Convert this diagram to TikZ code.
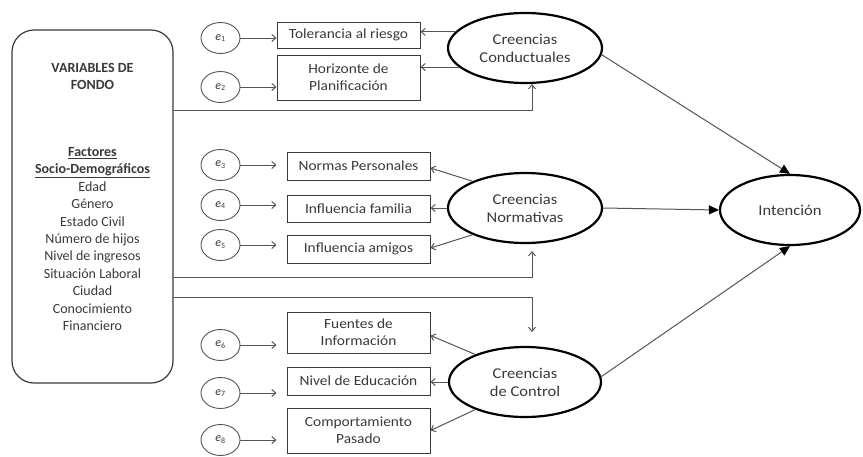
\documentclass[tikz,border=0pt]{standalone}
\usepackage{fontspec}
\setmainfont{Carlito}
\newfontfamily\widefont{Carlito}[FakeStretch=1.1]
\usetikzlibrary{arrows.meta,shapes.geometric}
\definecolor{ink}{HTML}{3A3A3A}
\definecolor{wire}{HTML}{555555}

\begin{document}
\begin{tikzpicture}[x=1pt,y=-1pt,
  every node/.style={text=ink},
  bgbox/.style={draw=ink, line width=1.2pt, rounded corners=22pt,
    minimum width=161pt, minimum height=353pt, inner sep=0pt},
  bgtext/.style={align=center, inner sep=0pt, font=\fontsize{14}{17.4}\selectfont},
  errnode/.style={ellipse, draw=wire, line width=0.9pt, minimum width=39pt,
    minimum height=31pt, inner sep=0pt, font=\fontsize{12}{12}\selectfont},
  itembox/.style={rectangle, draw=ink, line width=1pt, minimum width=143pt,
    inner sep=0pt, align=center, font=\widefont\fontsize{14}{17}\selectfont},
  construct/.style={ellipse, draw=black, line width=2.2pt, minimum width=154pt,
    minimum height=70pt, inner sep=0pt, align=center,
    font=\widefont\fontsize{15}{18}\selectfont},
  link/.style={draw=wire, line width=1pt, -{Straight Barb[length=4pt,width=7pt]}},
  effect/.style={draw=wire, line width=1pt,
    -{Triangle[length=10pt,width=9pt,color=black,fill=black]}}
]
\useasboundingbox[fill=white] (0,0) rectangle (863,456);

% background variables
\node[bgbox] (bg) at (92.5,206.5) {};
\node[bgtext] (bgtitle) at (92.5,76.5) {\textbf{VARIABLES DE}\\\textbf{FONDO}};
\node[bgtext] (bglist) at (92.5,239) {%
  \textbf{\underline{Factores}}\\
  \textbf{\underline{Socio-Demográficos}}\\
  Edad\\ Género\\ Estado Civil\\ Número de hijos\\ Nivel de ingresos\\
  Situación Laboral\\ Ciudad\\ Conocimiento\\ Financiero};

% error terms
\node[errnode] (e1) at (220.5,38)  {{\itshape e}\textsubscript{1}};
\node[errnode] (e2) at (220.5,87)  {{\itshape e}\textsubscript{2}};
\node[errnode] (e3) at (220.5,165) {{\itshape e}\textsubscript{3}};
\node[errnode] (e4) at (220.5,205) {{\itshape e}\textsubscript{4}};
\node[errnode] (e5) at (220.5,245) {{\itshape e}\textsubscript{5}};
\node[errnode] (e6) at (220.5,345) {{\itshape e}\textsubscript{6}};
\node[errnode] (e7) at (220.5,393) {{\itshape e}\textsubscript{7}};
\node[errnode] (e8) at (220.5,440) {{\itshape e}\textsubscript{8}};

% observed indicators
\node[itembox, minimum height=26pt] (tol) at (348.5,35)    {Tolerancia al riesgo};
\node[itembox, minimum height=45pt] (hor) at (348.5,77.5)  {Horizonte de\\Planificación};
\node[itembox, minimum height=28pt] (np)  at (358.5,166)   {Normas Personales};
\node[itembox, minimum height=27pt] (fam) at (358.5,208.5) {Influencia familia};
\node[itembox, minimum height=28pt] (ami) at (358.5,249)   {Influencia amigos};
\node[itembox, minimum height=41pt] (fue) at (358.5,332.5) {Fuentes de\\Información};
\node[itembox, minimum height=28pt] (niv) at (358.5,381)   {Nivel de Educación};
\node[itembox, minimum height=45pt] (com) at (358.5,430.5) {Comportamiento\\Pasado};

% latent constructs
\node[construct] (cc)  at (525,48)  {Creencias\\Conductuales};
\node[construct] (cn)  at (525,208) {Creencias\\Normativas};
\node[construct, minimum width=152pt] (ctl) at (525,382) {Creencias\\de Control};
\node[construct, minimum width=140pt] (int) at (790,210) {Intención};

% error terms to indicators
\draw[link] (e1.east) -- (e1.east -| tol.west);
\draw[link] (e2.east) -- (e2.east -| hor.west);
\foreach \e/\b in {e3/np,e4/fam,e5/ami,e6/fue,e7/niv,e8/com}
  \draw[link, shorten >=10pt] (\e.east) -- (\e.east -| \b.west);

% constructs to indicators
\draw[link] (cc.167) -- (cc.167 -| tol.east);
\draw[link] (cc.196) -- (cc.196 -| hor.east);
\draw[link] (cn.153) -- ([yshift=-2pt]np.east);
\draw[link] (cn.west) -- (cn.west -| fam.east);
\draw[link] (cn.207) -- ([yshift=1pt]ami.east);
\draw[link] (ctl.151) -- ([yshift=-3pt]fue.east);
\draw[link] (ctl.west) -- (ctl.west -| niv.east);
\draw[link] (ctl.209) -- (com.east);

% background variables to constructs
\draw[link] ([yshift=96.5pt]bg.east) -| ([xshift=7pt]cc.south);
\draw[link] ([yshift=-70.5pt]bg.east) -| ([xshift=7pt,yshift=-7pt]cn.south);
\draw[link] ([yshift=-90.5pt]bg.east) -| ([xshift=7pt,yshift=14pt]ctl.north);

% constructs to intention
\draw[effect] (cc.355) -- (int.north);
\draw[effect] (cn.east) -- (int.west);
\draw[effect] (ctl.4) -- (int.south);
\end{tikzpicture}
\end{document}
